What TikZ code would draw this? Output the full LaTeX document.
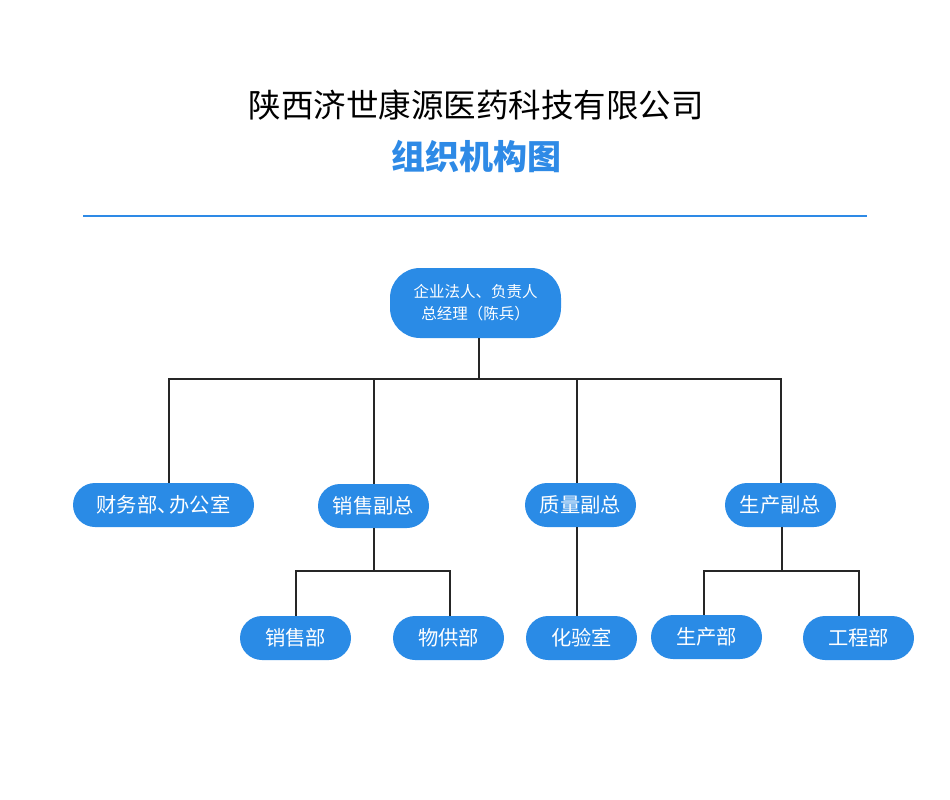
\documentclass[tikz,border=0pt]{standalone}
\usepackage{fontspec}
\setmainfont{Noto Sans CJK SC}
\definecolor{nodeblue}{HTML}{2A8BE6}
\definecolor{titleblue}{HTML}{2E8AE6}
\definecolor{linec}{HTML}{262626}
\begin{document}
\begin{tikzpicture}[x=1pt,y=-1pt,
  box/.style={fill=nodeblue, text=white, rounded corners=22pt, minimum width=111pt, minimum height=44pt, inner sep=0pt, font=\fontsize{20.3}{22}\selectfont},
  link/.style={draw=linec, line width=2pt}]
\useasboundingbox (0,0) rectangle (950,800);
\node[font=\fontsize{32.5}{36}\selectfont] (t1) at (476,105) {陕西济世康源医药科技有限公司};
\node[font=\fontsize{34}{36}\selectfont\bfseries, text=titleblue] (t2) at (476,156) {组织机构图};
\coordinate (r1) at (83,216);
\coordinate (r2) at (867,216);
\draw[titleblue, line width=2pt] (r1) -- (r2);

\node[box, minimum width=171pt, minimum height=70pt, rounded corners=30pt, font=\fontsize{15.5}{22}\selectfont, align=center] (ceo) at (475.5,303) {企业法人、负责人\\总经理（陈兵）};

\node[box, minimum width=181pt] (fin) at (163.5,505) {财务部\makebox[0.6em][l]{、}办公室};
\node[box] (sal) at (373.5,506) {销售副总};
\node[box] (qual) at (580.5,505) {质量副总};
\node[box] (prod) at (780.5,505) {生产副总};

\node[box] (sd) at (295.5,638) {销售部};
\node[box] (wg) at (448.5,638) {物供部};
\node[box] (lab) at (581.5,638) {化验室};
\node[box] (scb) at (706.5,637) {生产部};
\node[box] (gcb) at (858.5,638) {工程部};

\coordinate (bus) at (479,379);
\coordinate (bus2) at (373,571);
\coordinate (bus3) at (782,571);

\draw[link] ([xshift=3.5pt]ceo.south) -- (bus);
\draw[link] ([xshift=5.5pt]fin.north) -- ([xshift=5.5pt]fin.north |- bus) -- (prod.north |- bus) -- (prod.north);
\draw[link] (sal.north) -- (sal.north |- bus);
\draw[link] ([xshift=-3.5pt]qual.north) -- ([xshift=-3.5pt]qual.north |- bus);

\draw[link] (sal.south) -- (sal.south |- bus2);
\draw[link] (sd.north) -- (sd.north |- bus2) -- ([xshift=1.5pt]wg.north |- bus2) -- ([xshift=1.5pt]wg.north);

\draw[link] ([xshift=-3.5pt]qual.south) -- ([xshift=-4.5pt]lab.north);

\draw[link] ([xshift=1.5pt]prod.south) -- ([xshift=1.5pt]prod.south |- bus3);
\draw[link] ([xshift=-2.5pt]scb.north) -- ([xshift=-2.5pt]scb.north |- bus3) -- (gcb.north |- bus3) -- (gcb.north);
\end{tikzpicture}
\end{document}
